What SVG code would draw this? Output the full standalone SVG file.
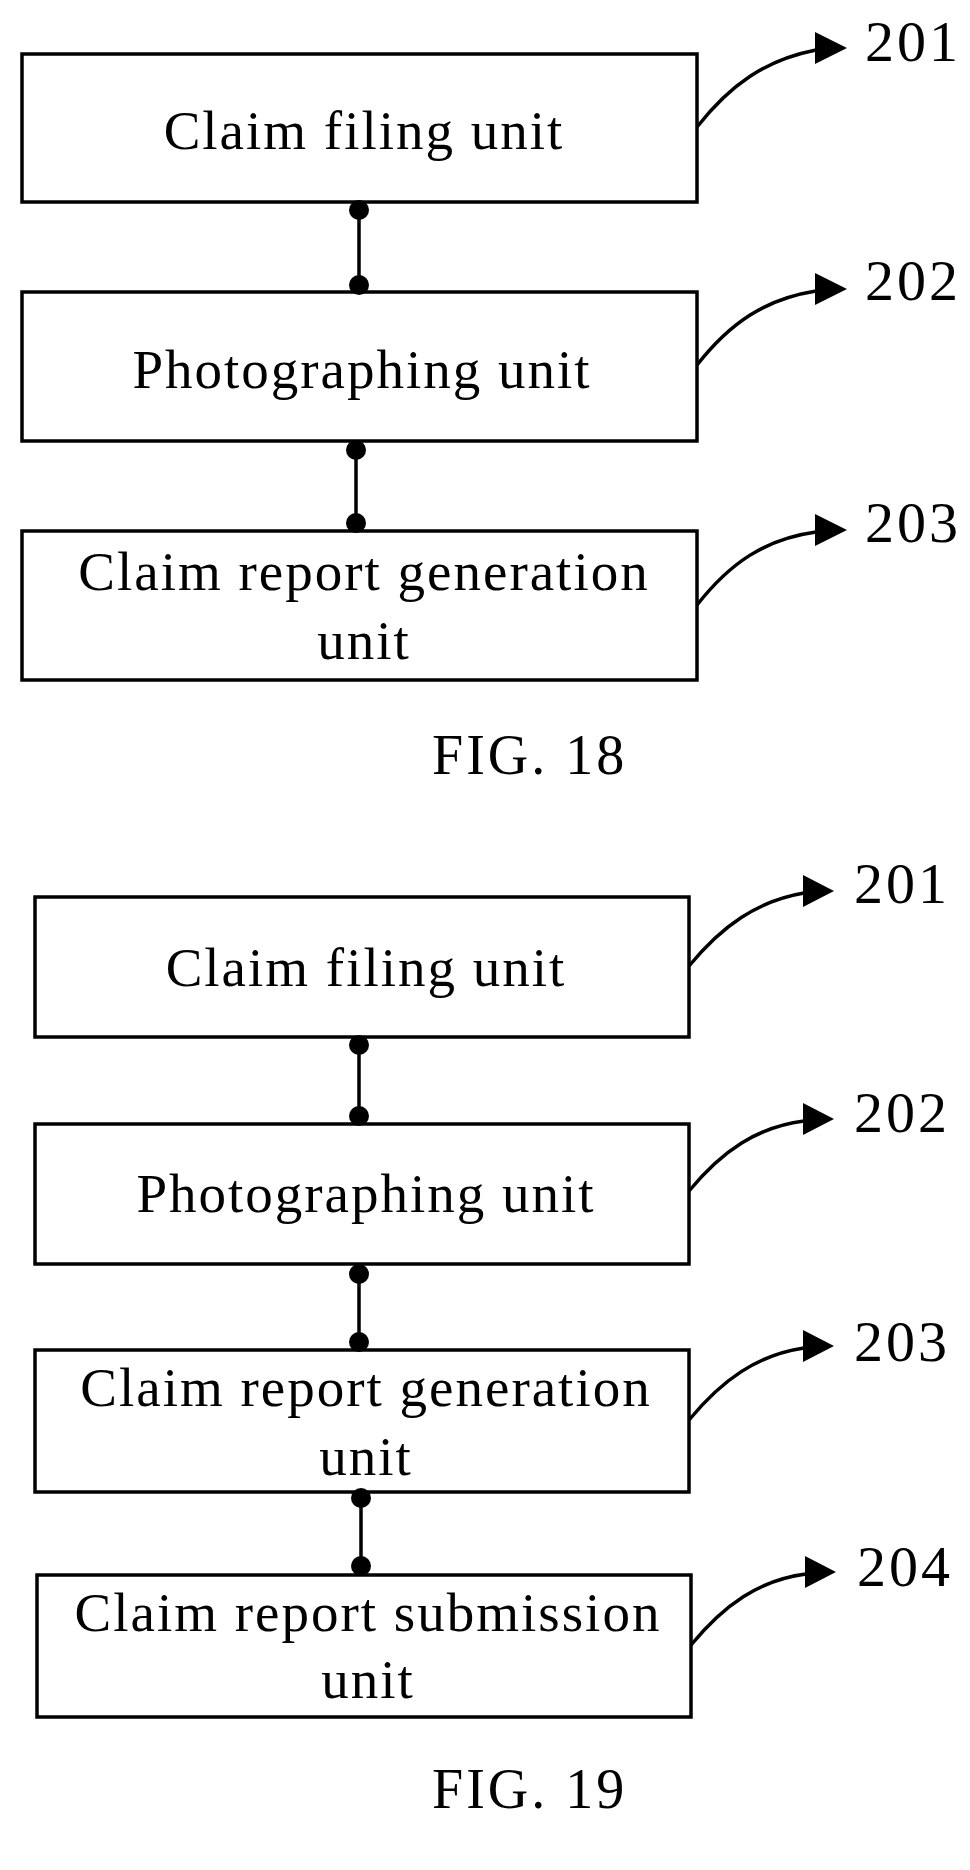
<svg xmlns="http://www.w3.org/2000/svg" width="970" height="1870" viewBox="0 0 970 1870">
<style>
.box{fill:#fff;stroke:#000;stroke-width:3.5}
.t{font-family:"Liberation Serif",serif;font-size:55px;letter-spacing:2px;text-anchor:middle;fill:#000}
.n{font-family:"Liberation Serif",serif;font-size:58px;letter-spacing:3px;fill:#000}
.f{font-family:"Liberation Serif",serif;font-size:56px;letter-spacing:3px;fill:#000}
.c{stroke:#000;stroke-width:3.5;fill:none}
.d{fill:#000}
</style>
<rect width="970" height="1870" fill="#fff"/>
<g id="f18-201"><rect class="box" x="22" y="54" width="675" height="148"/><text class="t" x="364" y="149">Claim filing unit</text></g>
<g id="f18-202"><rect class="box" x="22" y="292" width="675" height="149"/><text class="t" x="362" y="388">Photographing unit</text></g>
<g id="f18-203"><rect class="box" x="22" y="531" width="675" height="149"/><text class="t" x="364" y="590">Claim report generation</text><text class="t" x="364" y="659">unit</text></g>
<g id="f19-201"><rect class="box" x="35" y="897" width="654" height="140"/><text class="t" x="366" y="986">Claim filing unit</text></g>
<g id="f19-202"><rect class="box" x="35" y="1124" width="654" height="140"/><text class="t" x="366" y="1212">Photographing unit</text></g>
<g id="f19-203"><rect class="box" x="35" y="1350" width="654" height="142"/><text class="t" x="366" y="1406">Claim report generation</text><text class="t" x="366" y="1475">unit</text></g>
<g id="f19-204"><rect class="box" x="37" y="1575" width="654" height="142"/><text class="t" x="368" y="1631">Claim report submission</text><text class="t" x="368" y="1698">unit</text></g>
<g id="connectors">
<line class="c" x1="359" y1="210" x2="359" y2="285"/><circle class="d" cx="359" cy="210" r="10"/><circle class="d" cx="359" cy="285" r="10"/>
<line class="c" x1="356" y1="450" x2="356" y2="523"/><circle class="d" cx="356" cy="450" r="10"/><circle class="d" cx="356" cy="523" r="10"/>
<line class="c" x1="359" y1="1045" x2="359" y2="1116"/><circle class="d" cx="359" cy="1045" r="10"/><circle class="d" cx="359" cy="1116" r="10"/>
<line class="c" x1="359" y1="1274" x2="359" y2="1342"/><circle class="d" cx="359" cy="1274" r="10"/><circle class="d" cx="359" cy="1342" r="10"/>
<line class="c" x1="361" y1="1498" x2="361" y2="1566"/><circle class="d" cx="361" cy="1498" r="10"/><circle class="d" cx="361" cy="1566" r="10"/>
<path class="c" d="M697,127 C730,85 765,60 816,50"/><polygon class="d" points="815,32 847,48 815,64"/>
<path class="c" d="M697,365 C730,323 765,299 816,291"/><polygon class="d" points="815,273 847,289 815,305"/>
<path class="c" d="M697,605 C730,563 765,539 816,532"/><polygon class="d" points="815,514 847,530 815,546"/>
<path class="c" d="M689,966 C722,926 757,901 804,893"/><polygon class="d" points="803,875 834,891 803,907"/>
<path class="c" d="M689,1191 C722,1151 757,1127 804,1121"/><polygon class="d" points="803,1103 834,1119 803,1135"/>
<path class="c" d="M689,1420 C722,1380 757,1355 804,1348"/><polygon class="d" points="803,1330 834,1346 803,1362"/>
<path class="c" d="M691,1645 C724,1605 759,1580 806,1574"/><polygon class="d" points="805,1556 836,1572 805,1588"/>
</g>
<text class="n" x="865" y="61">201</text>
<text class="n" x="865" y="300">202</text>
<text class="n" x="865" y="542">203</text>
<text class="n" x="854" y="903">201</text>
<text class="n" x="854" y="1132">202</text>
<text class="n" x="854" y="1361">203</text>
<text class="n" x="857" y="1586">204</text>
<text class="f" x="432" y="774">FIG. 18</text>
<text class="f" x="432" y="1808">FIG. 19</text>
</svg>
